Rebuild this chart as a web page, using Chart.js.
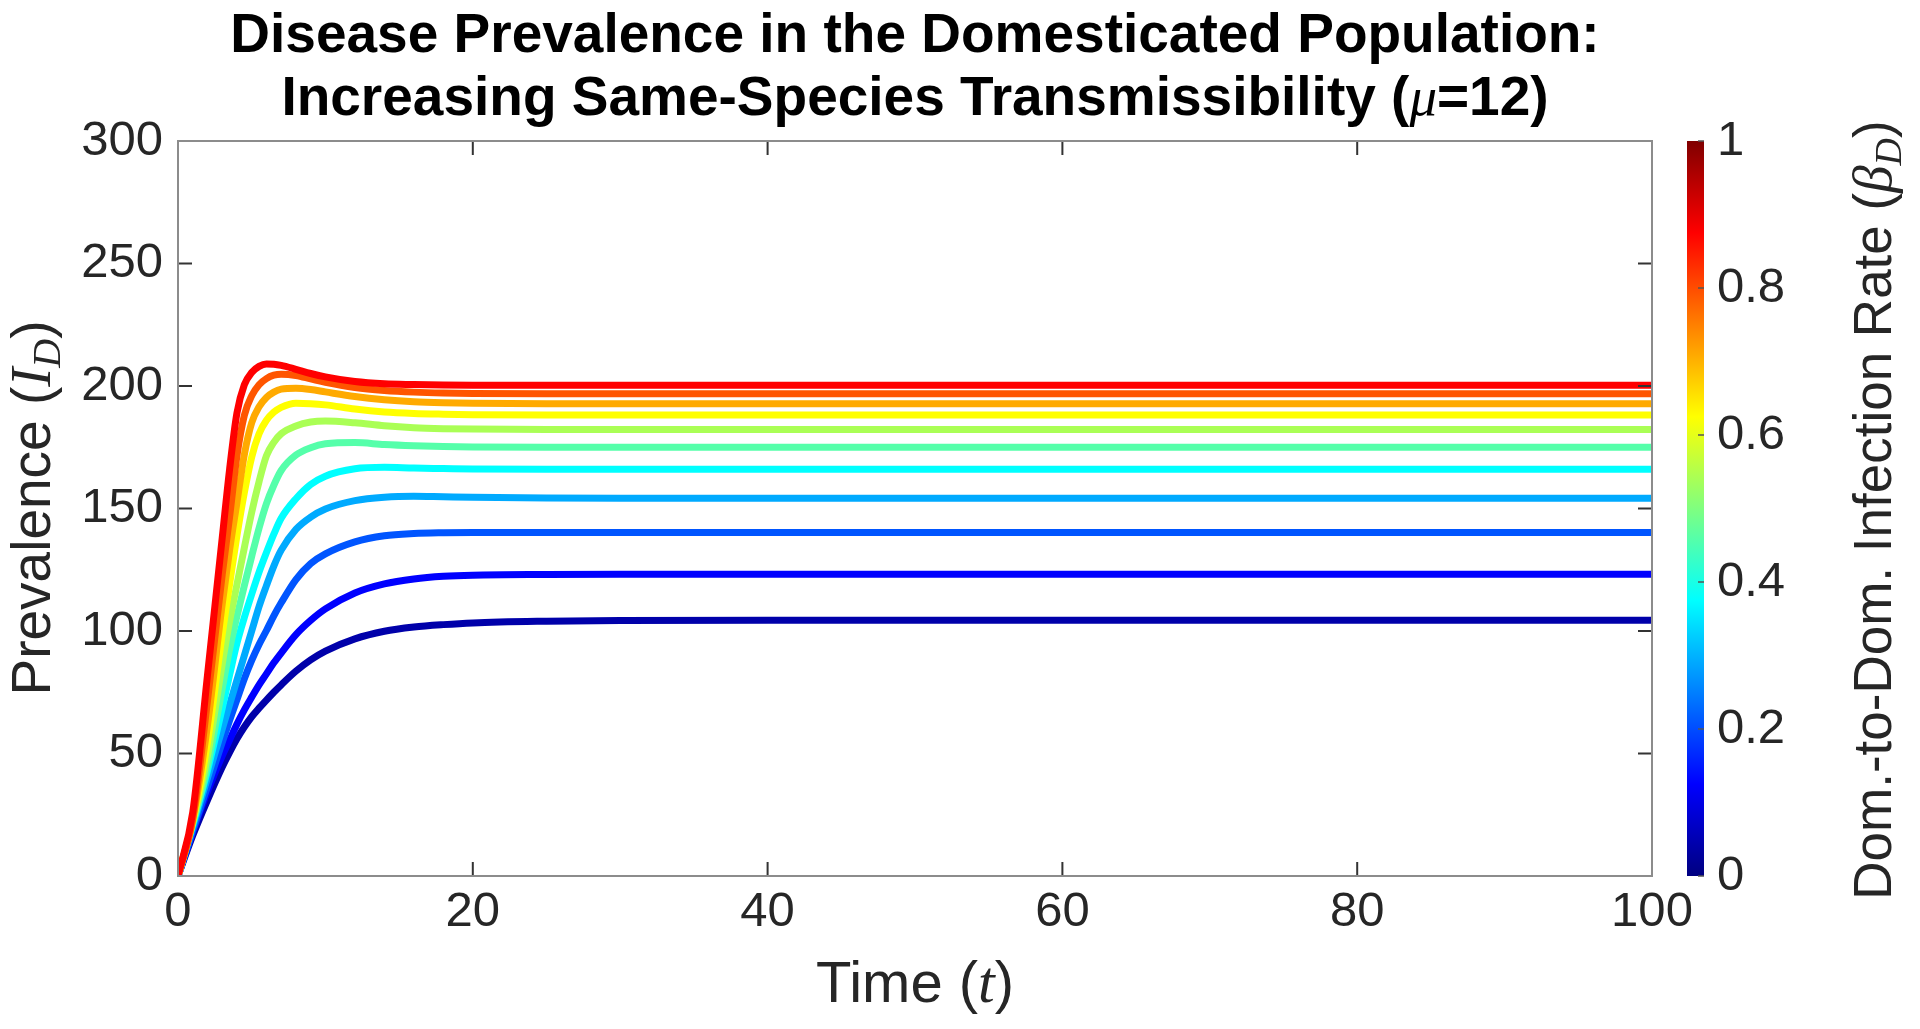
<!DOCTYPE html>
<html lang="en">
<head>
  <meta charset="UTF-8">
  <title>Disease Prevalence in the Domesticated Population</title>
  <style>
    html, body {
      margin: 0;
      padding: 0;
      background: #fff;
    }
    #wrap {
      width: 1920px;
      height: 1029px;
    }
  </style>
  <script src="https://cdn.jsdelivr.net/npm/chart.js"></script>
</head>
<body>
  <div id="wrap"><canvas id="chart" width="1920" height="1029"></canvas></div>

  <script>
    // Time samples
    const time = [0, 1, 2, 3, 3.5, 4, 4.5, 5, 5.5, 6, 6.5, 7, 8, 9, 10, 12, 14, 16, 18, 20, 25, 30, 40, 100];

    // Dom.-to-Dom. infection rate of each curve
    const betaValues = [0, 0.1, 0.2, 0.3, 0.4, 0.5, 0.6, 0.7, 0.8, 0.9, 1];

    // jet(11) line colours, beta = 0 ... 1
    const lineColors = ['#0000aa', '#0000ff', '#0055ff', '#00aaff', '#00ffff', '#55ffaa',
                        '#aaff55', '#ffff00', '#ffaa00', '#ff5500', '#ff0000'];

    // Prevalence I_D for each beta (same order as time)
    const prevBeta00 = [0, 16.5, 31, 44.5, 50.5, 56, 60.8, 65, 68.5, 71.8, 75, 78, 83.6, 88.2, 91.8, 96.8, 99.9, 101.6, 102.6, 103.3, 104, 104.3, 104.4, 104.4];
    const prevBeta01 = [0, 18, 34.5, 49, 55.5, 62, 67.8, 73, 78, 82.5, 87, 91, 98.5, 104.3, 109, 115.5, 119.2, 121.2, 122.3, 122.8, 123.1, 123.2, 123.2, 123.2];
    const prevBeta02 = [0, 18.5, 36.5, 54.5, 63.5, 72, 80.5, 88, 94.5, 100.2, 106.2, 111.5, 121, 127.5, 131.5, 136.4, 138.9, 139.8, 140.1, 140.2, 140.2, 140.2, 140.2, 140.2];
    const prevBeta03 = [0, 20, 40, 60, 70, 80, 90, 100, 110, 118.5, 126.5, 133, 141.5, 146.5, 149.8, 153.2, 154.6, 155, 154.8, 154.6, 154.3, 154.2, 154.2, 154.2];
    const prevBeta04 = [0, 21, 43, 68.5, 82, 95, 105.5, 115, 124, 132, 139.5, 146, 154, 159.8, 163.2, 166.2, 166.8, 166.5, 166.3, 166.1, 166, 166, 166, 166];
    const prevBeta05 = [0, 21.5, 45, 76.5, 92.5, 106, 118.5, 130.5, 142, 152, 159.5, 165.5, 171.8, 174.8, 176.4, 176.9, 176.1, 175.6, 175.3, 175.1, 175, 175, 175, 175];
    const prevBeta06 = [0, 22, 49, 86.5, 104, 119, 134, 148.5, 161, 171.5, 177, 180.5, 183.7, 185.3, 185.7, 185, 183.8, 183, 182.6, 182.4, 182.2, 182.2, 182.2, 182.2];
    const prevBeta07 = [0, 22.5, 54.5, 98.7, 119, 139, 156.5, 171, 180.5, 186, 189.3, 191.3, 193, 192.8, 192.3, 190.6, 189.4, 188.8, 188.5, 188.3, 188.2, 188.2, 188.2, 188.2];
    const prevBeta08 = [0, 23, 61.5, 111, 133, 152.5, 172, 185, 191.5, 195.3, 197.5, 198.7, 199.1, 198.6, 197.6, 195.7, 194.4, 193.6, 193.2, 193, 192.8, 192.8, 192.8, 192.8];
    const prevBeta09 = [0, 23.5, 71.5, 123, 146.5, 171.5, 188, 196, 200.5, 203, 204.4, 204.8, 204.3, 202.9, 201.5, 199.4, 198.2, 197.5, 197.1, 196.9, 196.8, 196.8, 196.8, 196.8];
    const prevBeta10 = [0, 26, 82, 138, 166, 189, 200.5, 205.5, 208, 209, 208.9, 208.4, 206.8, 205.1, 203.7, 201.8, 200.9, 200.6, 200.4, 200.3, 200.3, 200.3, 200.3, 200.3];

    const series = [prevBeta00, prevBeta01, prevBeta02, prevBeta03, prevBeta04, prevBeta05,
                    prevBeta06, prevBeta07, prevBeta08, prevBeta09, prevBeta10];

    // Axis ticks
    const xTicks = [0, 20, 40, 60, 80, 100];
    const yTicks = [0, 50, 100, 150, 200, 250, 300];
    const cbarTicks = [0, 0.2, 0.4, 0.6, 0.8, 1];

    const sans = "'Liberation Sans', Arial, Helvetica, sans-serif";
    const serif = "'Liberation Serif', 'DejaVu Serif', serif";
    const textColor = '#262626';

    // jet colormap stops for the colour bar
    const jetStops = [
      [0, '#000080'], [0.125, '#0000ff'], [0.375, '#00ffff'],
      [0.625, '#ffff00'], [0.875, '#ff0000'], [1, '#800000']
    ];

    // draw a run of text pieces (mixed fonts) centred on x
    function drawRich(ctx, parts, x, y, angle) {
      ctx.save();
      ctx.translate(x, y);
      if (angle) ctx.rotate(angle);
      ctx.textAlign = 'left';
      ctx.textBaseline = 'alphabetic';
      const widths = parts.map(p => { ctx.font = p.font; return ctx.measureText(p.text).width; });
      let cx = -widths.reduce((a, b) => a + b, 0) / 2;
      parts.forEach((p, i) => {
        ctx.font = p.font;
        ctx.fillStyle = p.color || textColor;
        ctx.fillText(p.text, cx, p.dy || 0);
        cx += widths[i];
      });
      ctx.restore();
    }

    const decorations = {
      id: 'decorations',
      afterDatasetsDraw(chart) {
        const { ctx, chartArea: a, scales } = chart;
        const tickLen = 14;
        ctx.save();

        // inner tick marks on all four sides
        ctx.strokeStyle = '#333';
        ctx.lineWidth = 2;
        ctx.beginPath();
        xTicks.forEach(v => {
          const px = scales.x.getPixelForValue(v);
          ctx.moveTo(px, a.bottom); ctx.lineTo(px, a.bottom - tickLen);
          ctx.moveTo(px, a.top); ctx.lineTo(px, a.top + tickLen);
        });
        yTicks.forEach(v => {
          const py = scales.y.getPixelForValue(v);
          ctx.moveTo(a.left, py); ctx.lineTo(a.left + tickLen, py);
          ctx.moveTo(a.right, py); ctx.lineTo(a.right - tickLen, py);
        });
        ctx.stroke();

        // axes box
        ctx.strokeStyle = '#8c8c8c';
        ctx.lineWidth = 2;
        ctx.strokeRect(a.left, a.top, a.right - a.left, a.bottom - a.top);

        // colour bar
        const cb = scales.cbar;
        const y0 = cb.getPixelForValue(0), y1 = cb.getPixelForValue(1);
        const barLeft = 1687, barW = 17;
        const grad = ctx.createLinearGradient(0, y0, 0, y1);
        jetStops.forEach(s => grad.addColorStop(s[0], s[1]));
        ctx.fillStyle = grad;
        ctx.fillRect(barLeft, y1, barW, y0 - y1);
        ctx.strokeStyle = '#555';
        ctx.lineWidth = 1.5;
        ctx.beginPath();
        cbarTicks.forEach(v => {
          const py = cb.getPixelForValue(v);
          ctx.moveTo(barLeft + barW, py); ctx.lineTo(barLeft + barW - 6, py);
        });
        ctx.stroke();

        // titles and axis labels
        const title = "bold 55px " + sans;
        drawRich(ctx, [{ text: 'Disease Prevalence in the Domesticated Population:', font: title, color: '#000' }], 915, 52);
        drawRich(ctx, [
          { text: 'Increasing Same-Species Transmissibility (', font: title, color: '#000' },
          { text: 'μ', font: 'italic 55px ' + serif, color: '#000' },
          { text: '=12)', font: title, color: '#000' }
        ], 915, 115);

        drawRich(ctx, [
          { text: 'Time (', font: '58px ' + sans },
          { text: 't', font: 'italic 60px ' + serif },
          { text: ')', font: '58px ' + sans }
        ], 915, 1002);

        drawRich(ctx, [
          { text: 'Prevalence (', font: '55px ' + sans },
          { text: 'I', font: 'italic 57px ' + serif },
          { text: 'D', font: 'italic 40px ' + serif, dy: 10 },
          { text: ')', font: '55px ' + sans }
        ], 50, 508, -Math.PI / 2);

        drawRich(ctx, [
          { text: 'Dom.-to-Dom. Infection Rate (', font: '53px ' + sans },
          { text: 'β', font: 'italic 55px ' + serif },
          { text: 'D', font: 'italic 38px ' + serif, dy: 10 },
          { text: ')', font: '53px ' + sans }
        ], 1891, 510, -Math.PI / 2);

        ctx.restore();
      }
    };

    const ctx = document.getElementById('chart').getContext('2d');
    const tickFont = { family: sans, size: 49 };

    const chart = new Chart(ctx, {
      type: 'line',
      data: {
        datasets: series.map((s, i) => ({
          label: 'beta = ' + betaValues[i],
          data: time.map((t, k) => ({ x: t, y: s[k] })),
          borderColor: lineColors[i],
          borderWidth: 7,
          pointRadius: 0,
          fill: false,
          cubicInterpolationMode: 'monotone',
          order: series.length - 1 - i
        }))
      },
      options: {
        responsive: false,
        animation: false,
        devicePixelRatio: 1,
        layout: { padding: { left: 0, top: 141, right: 0, bottom: 0 } },
        plugins: {
          legend: { display: false },
          tooltip: { enabled: false },
          title: { display: false }
        },
        scales: {
          x: {
            type: 'linear',
            min: 0,
            max: 100,
            afterBuildTicks: s => { s.ticks = xTicks.map(v => ({ value: v })); },
            afterFit: s => { s.height = 153; },
            ticks: { font: tickFont, color: textColor, padding: 7, maxRotation: 0, autoSkip: false },
            grid: { display: false, drawTicks: false },
            border: { display: false }
          },
          y: {
            type: 'linear',
            min: 0,
            max: 300,
            afterBuildTicks: s => { s.ticks = yTicks.map(v => ({ value: v })); },
            afterFit: s => { s.width = 178; },
            ticks: { font: tickFont, color: textColor, padding: 15, autoSkip: false },
            grid: { display: false, drawTicks: false },
            border: { display: false }
          },
          cbar: {
            type: 'linear',
            position: 'right',
            min: 0,
            max: 1,
            afterBuildTicks: s => { s.ticks = cbarTicks.map(v => ({ value: v })); },
            afterFit: s => { s.width = 268; },
            ticks: {
              font: tickFont,
              color: textColor,
              padding: 65,
              autoSkip: false,
              callback: v => String(+v.toFixed(1))
            },
            grid: { display: false, drawTicks: false },
            border: { display: false }
          }
        }
      },
      plugins: [decorations]
    });
  </script>
</body>
</html>
